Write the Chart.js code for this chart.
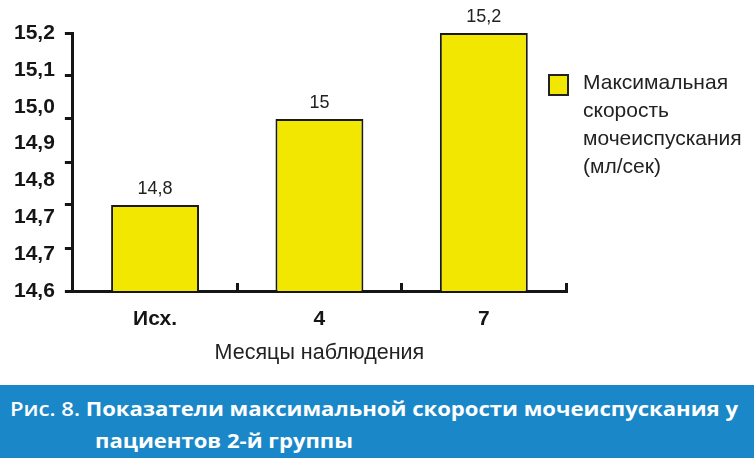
<!DOCTYPE html>
<html>
<head>
<meta charset="utf-8">
<script src="https://cdn.jsdelivr.net/npm/chart.js@4/dist/chart.umd.min.js"></script>
<style>
  html, body { margin: 0; padding: 0; background: #fff; width: 754px; height: 458px; overflow: hidden; }
  #wrap { position: relative; width: 754px; height: 385px; }
  #legend { position: absolute; left: 548px; top: 73px; font: 21px "Liberation Sans", Arial, sans-serif; color: #222; }
  #legend .item { display: flex; align-items: flex-start; }
  #legend .box { width: 17px; height: 18px; border: 2px solid #222; margin-top: 1px; margin-right: 14px; flex: none; }
  #legend .txt { white-space: pre-line; line-height: 28px; margin-top: -5px; }
  #caption { position: absolute; left: 0; top: 385px; width: 754px; height: 73px; background: #1a88c8; color: #fff;
             font: bold 19px "Open Sans", "Noto Sans", sans-serif; }
  #caption .line { position: absolute; white-space: nowrap; line-height: 32px; transform-origin: 0 0; }
  #caption .fig { font-weight: 600; }
</style>
</head>
<body>
<div id="wrap">
  <canvas id="chart" width="754" height="385"></canvas>
  <div id="legend"></div>
</div>
<div id="caption">
  <div class="line" id="cap1" style="left:10px;top:8px"><span class="fig">Рис. 8.</span> Показатели максимальной скорости мочеиспускания у</div>
  <div class="line" id="cap2" style="left:95px;top:40px">пациентов 2-й группы</div>
</div>
<script>
const categories = ["Исх.", "4", "7"];
const speedValues = [14.8, 15, 15.2];
const seriesLabel = "Максимальная\nскорость\nмочеиспускания\n(мл/сек)";
const yTickLabels = ["14,6", "14,7", "14,7", "14,8", "14,9", "15,0", "15,1", "15,2"];
const xTitle = "Месяцы наблюдения";
const yMin = 14.6;
const yMax = 15.2;
const yStep = 0.1;

const ink = "#151515";
const fmt = (v) => String(v).replace(".", ",");

// value above each bar
const valueLabels = {
  id: "valueLabels",
  afterDatasetsDraw(chart) {
    const ctx = chart.ctx;
    const ds = chart.data.datasets[0];
    ctx.save();
    ctx.font = '18px "Liberation Sans", Arial, sans-serif';
    ctx.fillStyle = "#222";
    ctx.textAlign = "center";
    ctx.textBaseline = "bottom";
    chart.getDatasetMeta(0).data.forEach((bar, i) => {
      ctx.fillText(fmt(ds.data[i]), bar.x, bar.y - 7);
    });
    ctx.restore();
  }
};

// legend sits over the right part of the plot, so build it in html
const htmlLegend = {
  id: "htmlLegend",
  afterUpdate(chart) {
    const el = document.getElementById("legend");
    el.innerHTML = "";
    chart.data.datasets.forEach(ds => {
      const item = document.createElement("div");
      item.className = "item";
      const box = document.createElement("span");
      box.className = "box";
      box.style.background = ds.backgroundColor;
      const txt = document.createElement("span");
      txt.className = "txt";
      txt.textContent = ds.label;
      item.appendChild(box);
      item.appendChild(txt);
      el.appendChild(item);
    });
  }
};

new Chart(document.getElementById("chart"), {
  type: "bar",
  data: {
    labels: categories,
    datasets: [{
      label: seriesLabel,
      data: speedValues,
      backgroundColor: "#f2e700",
      borderColor: "#1a1a1a",
      borderWidth: 2,
      categoryPercentage: 1,
      barPercentage: 0.535
    }]
  },
  options: {
    responsive: false,
    animation: false,
    layout: { padding: { left: 4, right: 188, top: 33, bottom: 19 } },
    plugins: { legend: { display: false }, tooltip: { enabled: false } },
    scales: {
      x: {
        grid: { drawOnChartArea: false, tickLength: -8, tickWidth: 3, tickColor: ink },
        border: { color: ink, width: 3 },
        ticks: { color: ink, padding: 24, font: { family: '"Liberation Sans", Arial, sans-serif', size: 21, weight: "bold" } },
        title: { display: true, text: xTitle, color: "#222", padding: { top: -16, bottom: 0 },
                 font: { family: '"Liberation Sans", Arial, sans-serif', size: 21.5 } }
      },
      y: {
        position: "left",
        min: yMin, max: yMax,
        ticks: { display: false, stepSize: yStep },
        grid: { drawOnChartArea: false, tickLength: 8, tickWidth: 3, tickColor: ink },
        border: { color: ink, width: 3 }
      },
      y2: {
        position: "left",
        weight: 1,
        min: yMin, max: yMax,
        grid: { display: false, drawTicks: false },
        border: { display: false },
        ticks: {
          count: yTickLabels.length,
          padding: 10,
          color: ink,
          font: { family: '"Liberation Sans", Arial, sans-serif', size: 21, weight: "bold" },
          callback: (v, i) => yTickLabels[i]
        }
      }
    }
  },
  plugins: [valueLabels, htmlLegend]
});

// stretch caption to the width it has in the figure
const cap1 = document.getElementById("cap1");
const cap2 = document.getElementById("cap2");
const k = 728 / cap1.getBoundingClientRect().width;
cap1.style.transform = `scaleX(${k})`;
cap2.style.transform = `scaleX(${k})`;
</script>
</body>
</html>
